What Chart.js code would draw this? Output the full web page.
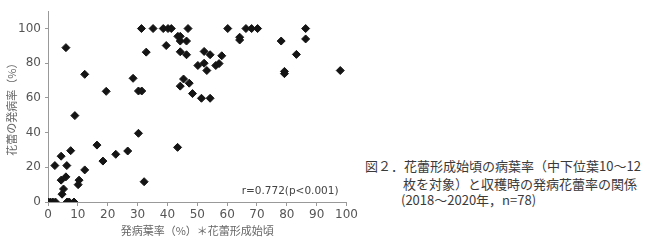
<!DOCTYPE html>
<html>
<head>
<meta charset="utf-8">
<script src="https://cdn.jsdelivr.net/npm/chart.js@4"></script>
<style>
  body { margin: 0; background: #fff; width: 650px; height: 244px; overflow: hidden; position: relative; }
  #wrap { position: absolute; left: 0; top: 0; width: 360px; height: 244px; }
  .cap { position: absolute; font-family: "Noto Sans CJK JP", sans-serif; font-size: 13px; color: #3a3a3a; white-space: nowrap; line-height: 1; }
</style>
</head>
<body>
<div id="wrap"><canvas id="myChart" width="360" height="244"></canvas></div>
<div class="cap" style="left:365px; top:159px;">図２．花蕾形成始頃の病葉率（中下位葉10～12</div>
<div class="cap" style="left:403px; top:177px;">枚を対象）と収穫時の発病花蕾率の関係</div>
<div class="cap" style="left:401px; top:193px;">(2018～2020年，n=78)</div>
<script>
// ////////////// data
const leafRate = [0, 0.8, 1.6, 2.5, 2.3, 4.4, 4.4, 4.7, 5.2, 6, 6.3, 6, 6.4, 7.1, 8.7, 7.6, 9, 10.1, 10.4, 12.3,
  12.3, 16.4, 18.4, 19.5, 22.7, 26.7, 28.5, 30.3, 30.3, 31.4, 31.3, 32.2, 32.9, 35.2, 38.6, 39.6, 40.2, 41.3,
  43.4, 43.5, 44.3, 44.3, 44.3, 44.3, 45.4, 46.4, 46.4, 46.9, 47.3, 48.4, 50.2, 51.4, 52.3, 52.3, 53.2, 54.3,
  54.3, 56.2, 57.3, 58.2, 60.2, 64.2, 64.2, 66.3, 68.2, 70.2, 78.1, 79.2, 79.2, 83.2, 86.3, 86.3, 97.9];
const budRate = [0, 0, 0, 0, 21, 26.4, 12.6, 4.5, 7.5, 89, 21, 14.5, 0, 0, 0, 29.6, 49.8, 10, 12.6, 73.6,
  18.5, 32.8, 23.6, 63.8, 27.5, 29.4, 71.3, 39.6, 64, 64, 100, 11.7, 86.4, 100, 100, 90.2, 100, 100,
  31.5, 95.5, 95.5, 66.8, 92.8, 86.6, 70.9, 92.8, 84.9, 100, 68.5, 62.5, 78.7, 59.8, 86.8, 80, 75.8, 84.9,
  59.8, 78.7, 79.8, 84.3, 100, 95, 93.4, 100, 100, 100, 92.8, 75.3, 74, 85.1, 100, 94, 75.8];
const xTicks = [0, 10, 20, 30, 40, 50, 60, 70, 80, 90, 100];
const yTicks = [0, 20, 40, 60, 80, 100];
const corrText = 'r=0.772(p<0.001)';

const points = leafRate.map((x, i) => ({ x: x, y: budRate[i] }));

// /////////////// r value text in the lower right
const corrLabel = {
  id: 'corrLabel',
  afterDraw(chart) {
    const c = chart.ctx;
    const a = chart.chartArea;
    c.save();
    c.font = '10.5px "DejaVu Sans"';
    c.fillStyle = '#444';
    c.textAlign = 'right';
    c.textBaseline = 'middle';
    c.fillText(corrText, a.right - 8, a.bottom - 11);
    c.restore();
  }
};

const ctx = document.getElementById('myChart').getContext('2d');
const myChart = new Chart(ctx, {
  type: 'scatter',
  data: {
    datasets: [{
      data: points,
      pointStyle: 'rectRot',
      radius: 4,
      backgroundColor: '#141414',
      borderColor: '#141414',
      borderWidth: 1
    }]
  },
  options: {
    responsive: false,
    animation: false,
    layout: { padding: { left: 0, right: 8, top: 8, bottom: 7 } },
    plugins: { legend: { display: false }, tooltip: { enabled: false } },
    scales: {
      x: {
        type: 'linear',
        min: 0, max: 100,
        afterBuildTicks: (s) => { s.ticks = xTicks.map(v => ({ value: v })); },
        afterFit: (s) => { s.height = 35; },
        grid: { display: true, drawOnChartArea: false, tickLength: 4, color: '#999' },
        border: { color: '#999' },
        ticks: { color: '#555', font: { family: 'DejaVu Sans', size: 12 }, padding: 2, maxRotation: 0 },
        title: { display: true, text: '発病葉率（%）＊花蕾形成始頃', color: '#666',
          font: { family: 'Noto Sans CJK JP', size: 11 }, padding: { top: 2, bottom: 0 } }
      },
      y: {
        type: 'linear',
        min: 0, max: 110,
        afterBuildTicks: (s) => { s.ticks = yTicks.map(v => ({ value: v })); },
        afterFit: (s) => { s.width = 48; },
        grid: { display: true, drawOnChartArea: false, tickLength: 3, color: '#999' },
        border: { color: '#999' },
        ticks: { color: '#555', font: { family: 'DejaVu Sans', size: 12 }, padding: 4 },
        title: { display: true, text: '花蕾の発病率（%）', color: '#666',
          font: { family: 'Noto Sans CJK JP', size: 11 }, padding: { top: 5, bottom: 0 } }
      }
    }
  },
  plugins: [corrLabel]
});
</script>
</body>
</html>
